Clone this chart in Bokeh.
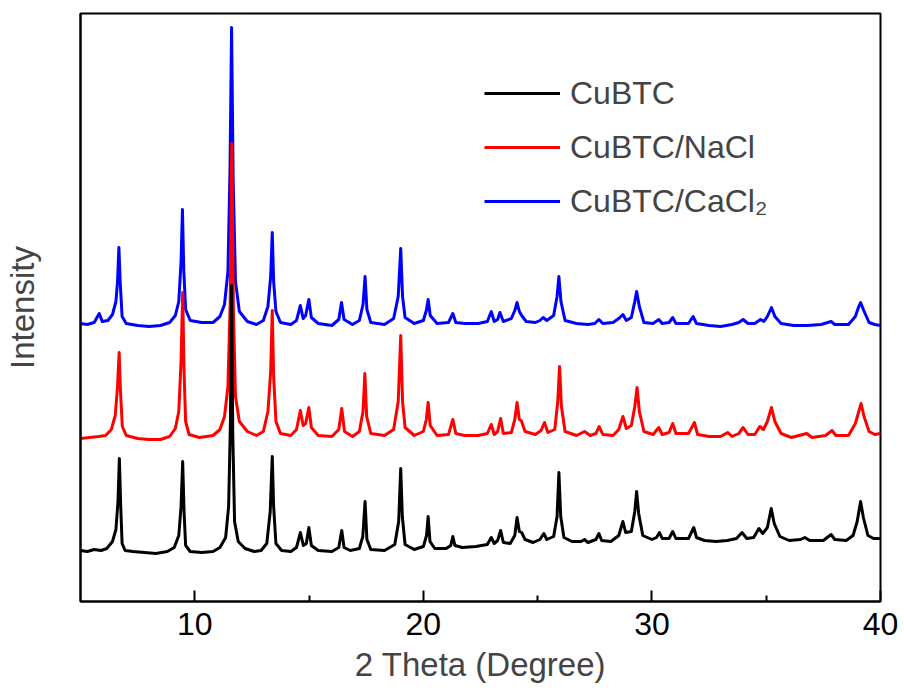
from bokeh.plotting import figure
from bokeh.models import Range1d, FixedTicker, Legend, LegendItem
from bokeh.embed import file_html
from bokeh.resources import INLINE

# ---------------- data (2 Theta in degrees, intensity in arbitrary units, stacked) ----------------
series_names = ["CuBTC", "CuBTC/NaCl", "CuBTC/CaCl\u2082"]
series_colors = ["black", "red", "blue"]

cubtc_pts = [
    (5.00, 51), (5.3, 50), (5.6, 52), (5.9, 51), (6.15, 53), (6.4, 60), (6.55, 72), (6.64, 100),
    (6.70, 143), (6.76, 95), (6.82, 58), (6.95, 51), (7.3, 50), (7.8, 49), (8.3, 48), (8.8, 50),
    (9.1, 54), (9.3, 66), (9.40, 95), (9.47, 140), (9.53, 90), (9.6, 56), (9.8, 50), (10.3, 49),
    (10.8, 50), (11.1, 54), (11.35, 64), (11.48, 95), (11.56, 180), (11.61, 316), (11.66, 170),
    (11.74, 80), (11.9, 60), (12.2, 53), (12.6, 50), (12.9, 51), (13.15, 58), (13.3, 90),
    (13.39, 145), (13.45, 95), (13.55, 58), (13.8, 51), (14.2, 50), (14.45, 54), (14.62, 69),
    (14.75, 56), (14.88, 58), (14.99, 74), (15.1, 56), (15.4, 51), (16.0, 50), (16.3, 54),
    (16.43, 71), (16.53, 54), (16.8, 51), (17.2, 53), (17.35, 65), (17.45, 100), (17.53, 62),
    (17.7, 52), (18.3, 51), (18.75, 57), (18.92, 80), (19.01, 133), (19.08, 85), (19.2, 57),
    (19.6, 52), (20.0, 55), (20.14, 66), (20.21, 85), (20.29, 60), (20.5, 53), (21.0, 53),
    (21.2, 56), (21.29, 65), (21.38, 56), (21.7, 54), (22.3, 55), (22.8, 57), (22.97, 64),
    (23.1, 58), (23.25, 61), (23.38, 71), (23.5, 59), (23.8, 58), (24.0, 66), (24.10, 84),
    (24.2, 70), (24.3, 69), (24.45, 62), (24.8, 59), (25.1, 62), (25.27, 68), (25.4, 62),
    (25.7, 65), (25.85, 85), (25.93, 129), (26.01, 85), (26.15, 64), (26.5, 60), (26.9, 60),
    (27.05, 62), (27.2, 59), (27.55, 62), (27.68, 68), (27.8, 61), (28.2, 60), (28.55, 66),
    (28.73, 80), (28.85, 69), (29.1, 70), (29.25, 90), (29.33, 110), (29.42, 88), (29.6, 66),
    (30.0, 62), (30.2, 64), (30.33, 69), (30.45, 63), (30.75, 63), (30.91, 70), (31.05, 63),
    (31.6, 63), (31.83, 74), (31.95, 64), (32.3, 61), (32.8, 60), (33.3, 61), (33.7, 63),
    (33.94, 69), (34.15, 63), (34.45, 64), (34.68, 73), (34.85, 68), (35.05, 74), (35.22, 93),
    (35.35, 78), (35.6, 65), (36.0, 61), (36.5, 62), (36.69, 64), (36.9, 61), (37.5, 61),
    (37.84, 67), (38.0, 62), (38.5, 61), (38.8, 66), (38.98, 80), (39.13, 100), (39.25, 84),
    (39.45, 66), (39.7, 63), (40.0, 63),
]

nacl_pts = [
    (5.00, 163), (5.4, 164), (5.8, 165), (6.1, 166), (6.35, 172), (6.52, 186), (6.62, 215),
    (6.69, 249), (6.75, 210), (6.83, 175), (7.0, 166), (7.5, 163), (8.0, 162), (8.5, 162),
    (8.9, 165), (9.15, 173), (9.3, 190), (9.40, 240), (9.47, 309), (9.53, 230), (9.6, 180),
    (9.75, 167), (10.2, 164), (10.8, 166), (11.1, 172), (11.3, 185), (11.45, 215), (11.55, 300),
    (11.62, 458), (11.69, 290), (11.78, 205), (11.95, 180), (12.3, 170), (12.7, 166), (13.0, 170),
    (13.2, 190), (13.32, 230), (13.39, 291), (13.45, 225), (13.55, 180), (13.75, 168), (14.2, 166),
    (14.45, 172), (14.62, 191), (14.74, 176), (14.85, 178), (14.99, 194), (15.1, 174), (15.4, 166),
    (16.0, 165), (16.3, 172), (16.43, 193), (16.55, 170), (16.9, 165), (17.2, 170), (17.36, 190),
    (17.44, 228), (17.52, 185), (17.7, 168), (18.3, 166), (18.7, 172), (18.9, 200), (19.01, 266),
    (19.09, 200), (19.2, 174), (19.6, 166), (20.0, 170), (20.13, 182), (20.21, 199), (20.3, 176),
    (20.6, 166), (21.1, 167), (21.29, 182), (21.42, 168), (21.8, 166), (22.4, 166), (22.8, 168),
    (22.97, 177), (23.1, 167), (23.25, 170), (23.38, 183), (23.5, 168), (23.85, 169), (24.0, 182),
    (24.10, 199), (24.2, 182), (24.28, 181), (24.45, 170), (24.9, 167), (25.15, 171), (25.30, 179),
    (25.45, 169), (25.75, 172), (25.88, 200), (25.96, 235), (26.04, 195), (26.2, 170), (26.7, 166),
    (27.05, 170), (27.3, 166), (27.55, 168), (27.69, 175), (27.85, 167), (28.3, 166), (28.55, 172),
    (28.73, 185), (28.88, 173), (29.1, 176), (29.25, 195), (29.35, 214), (29.45, 190), (29.65, 170),
    (30.05, 167), (30.30, 174), (30.45, 167), (30.75, 169), (30.91, 178), (31.05, 168), (31.6, 168),
    (31.86, 179), (32.0, 167), (32.5, 165), (33.0, 165), (33.32, 169), (33.5, 165), (33.8, 168),
    (33.99, 174), (34.2, 167), (34.5, 167), (34.72, 175), (34.88, 172), (35.05, 180), (35.23, 194),
    (35.38, 180), (35.65, 168), (36.1, 164), (36.77, 168), (37.0, 164), (37.6, 166), (37.88, 171),
    (38.05, 166), (38.6, 166), (38.9, 178), (39.05, 190), (39.15, 198), (39.28, 185), (39.5, 170),
    (39.75, 167), (40.0, 168),
]

cacl2_pts = [
    (5.00, 278), (5.3, 277), (5.6, 279), (5.82, 288), (5.95, 280), (6.2, 281), (6.4, 287),
    (6.55, 300), (6.62, 320), (6.68, 354), (6.74, 318), (6.82, 285), (7.0, 278), (7.5, 276),
    (8.0, 275), (8.5, 276), (8.9, 279), (9.15, 286), (9.3, 300), (9.40, 340), (9.46, 392),
    (9.52, 330), (9.6, 292), (9.8, 281), (10.3, 279), (10.8, 279), (11.1, 285), (11.3, 297),
    (11.45, 330), (11.54, 430), (11.61, 574), (11.68, 420), (11.78, 320), (11.95, 290), (12.3, 280),
    (12.7, 277), (13.0, 281), (13.2, 295), (13.32, 325), (13.39, 369), (13.45, 320), (13.55, 290),
    (13.75, 279), (14.2, 277), (14.45, 281), (14.62, 296), (14.74, 283), (14.85, 286), (14.99, 302),
    (15.1, 284), (15.4, 278), (16.0, 276), (16.3, 282), (16.42, 299), (16.53, 282), (16.9, 277),
    (17.2, 281), (17.36, 297), (17.45, 325), (17.53, 292), (17.7, 279), (18.3, 277), (18.7, 283),
    (18.9, 305), (19.01, 353), (19.09, 305), (19.2, 284), (19.6, 278), (20.0, 281), (20.13, 291),
    (20.21, 302), (20.3, 286), (20.6, 278), (21.1, 279), (21.29, 288), (21.42, 279), (21.8, 278),
    (22.4, 278), (22.8, 280), (22.97, 290), (23.1, 280), (23.25, 282), (23.35, 289), (23.5, 280),
    (23.85, 283), (24.0, 291), (24.10, 299), (24.2, 290), (24.3, 286), (24.5, 280), (24.9, 279),
    (25.1, 281), (25.24, 284), (25.4, 281), (25.7, 286), (25.85, 305), (25.93, 325), (26.02, 300),
    (26.2, 281), (26.7, 278), (27.2, 277), (27.5, 278), (27.68, 282), (27.85, 278), (28.3, 279),
    (28.55, 283), (28.73, 287), (28.88, 281), (29.1, 284), (29.25, 300), (29.33, 310), (29.45, 295),
    (29.65, 279), (30.05, 278), (30.30, 282), (30.45, 278), (30.75, 279), (30.91, 284), (31.05, 278),
    (31.6, 278), (31.80, 285), (31.95, 278), (32.5, 276), (33.0, 275), (33.5, 277), (33.8, 279),
    (33.99, 282), (34.2, 278), (34.5, 278), (34.75, 282), (34.9, 280), (35.05, 285), (35.23, 294),
    (35.38, 285), (35.65, 278), (36.2, 276), (36.8, 276), (37.4, 277), (37.84, 280), (38.0, 277),
    (38.6, 277), (38.9, 285), (39.05, 295), (39.13, 299), (39.25, 292), (39.5, 279), (39.75, 277),
    (40.0, 276),
]

x_major_ticks = [10, 20, 30, 40]
x_minor_ticks = [15, 25, 35]
x_limits = (5, 40)
y_limits = (0, 588)

FONT = "Liberation Sans"

# ---------------- figure ----------------
p = figure(width=904, height=693, output_backend="svg", toolbar_location=None,
           x_range=Range1d(*x_limits), y_range=Range1d(*y_limits),
           min_border_left=79, min_border_right=24, min_border_top=13, min_border_bottom=92,
           x_axis_label="2 Theta (Degree)", y_axis_label="Intensity")
p.grid.visible = False
p.outline_line_color = "black"
p.outline_line_width = 2
p.background_fill_color = "white"
p.border_fill_color = "white"

xa = p.xaxis[0]
xa.ticker = FixedTicker(ticks=x_major_ticks, minor_ticks=x_minor_ticks)
xa.major_tick_in = 11
xa.major_tick_out = 0
xa.minor_tick_in = 6
xa.minor_tick_out = 0
xa.major_tick_line_width = 2
xa.minor_tick_line_width = 2
xa.axis_line_width = 2
xa.major_label_text_font = FONT
xa.major_label_text_font_size = "32px"
xa.major_label_text_color = "black"
xa.major_label_standoff = 11
xa.axis_label_text_font = FONT
xa.axis_label_text_font_size = "33px"
xa.axis_label_text_font_style = "normal"
xa.axis_label_standoff = 8

ya = p.yaxis[0]
ya.ticker = FixedTicker(ticks=[])
ya.major_tick_in = 0
ya.major_tick_out = 0
ya.minor_tick_in = 0
ya.minor_tick_out = 0
ya.axis_line_width = 2
ya.axis_label_text_font = FONT
ya.axis_label_text_font_size = "33px"
ya.axis_label_text_font_style = "normal"
ya.axis_label_standoff = 40

all_pts = [cubtc_pts, nacl_pts, cacl2_pts]
drawn = {}
for idx in [2, 1, 0]:
    pts = all_pts[idx]
    xs = [a for a, b in pts]
    ys = [b for a, b in pts]
    drawn[idx] = p.line(xs, ys, line_color=series_colors[idx], line_width=3, line_join="round")

legend = Legend(items=[LegendItem(label=series_names[i], renderers=[drawn[i]]) for i in range(3)],
                location=(404, 380), orientation="vertical",
                label_text_font=FONT, label_text_font_size="32px",
                glyph_width=76, glyph_height=40, label_height=40, label_standoff=10,
                spacing=14, padding=0, margin=0,
                border_line_color=None, background_fill_alpha=0)
p.add_layout(legend)

open("out.html", "w").write(file_html(p, INLINE))
